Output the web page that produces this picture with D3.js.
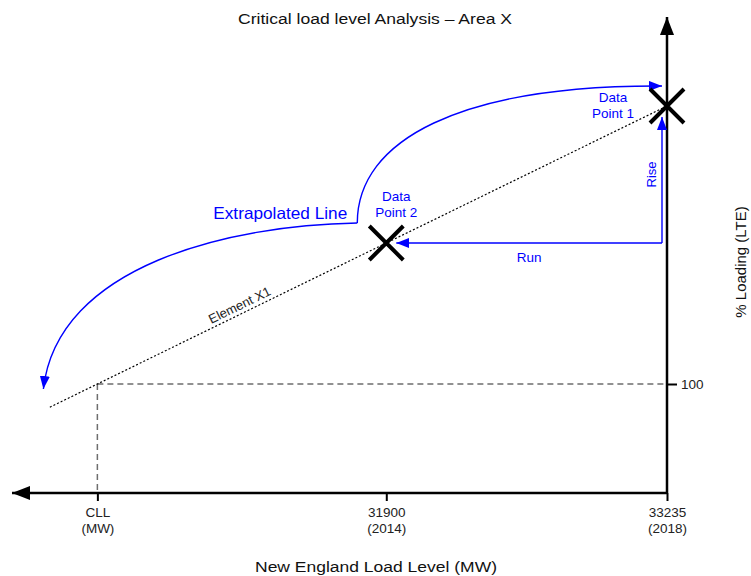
<!DOCTYPE html>
<html>
<head>
<meta charset="utf-8">
<script src="https://cdn.jsdelivr.net/npm/d3@7"></script>
<style>
  body { margin: 0; background: #fff; }
  text { font-family: "Liberation Sans", Arial, sans-serif; }
</style>
</head>
<body>
<div id="chart"></div>
<script>
// values
const pointNames = [["Data", "Point 1"], ["Data", "Point 2"]];
const pointLoads = [33235, 31900];        // MW
const pointLoading = [127.8, 114.1];      // % loading (LTE)
const tickTop = ["CLL", "31900", "33235"];
const tickBottom = ["(MW)", "(2014)", "(2018)"];
const loadingTicks = [100];
const lineStartLoad = 30300;
const axisLoadRange = [30120, 33235];
const axisLoadingRange = [89.1, 136.7];

const width = 751, height = 576;
const blue = "#0000ff";

const svg = d3.select("#chart").append("svg")
    .attr("width", width)
    .attr("height", height);

const x = d3.scaleLinear().domain(axisLoadRange).range([12, 667]);
const y = d3.scaleLinear().domain(axisLoadingRange).range([493, 17]);

// line through the two points, extended back to 100 %
const slope = (pointLoading[0] - pointLoading[1]) / (pointLoads[0] - pointLoads[1]);
const loadingAt = l => pointLoading[1] + slope * (l - pointLoads[1]);
const cll = pointLoads[1] + (100 - pointLoading[1]) / slope;

// arrow heads
const defs = svg.append("defs");
function marker(id, len, half, color) {
    defs.append("marker")
        .attr("id", id)
        .attr("markerUnits", "userSpaceOnUse")
        .attr("markerWidth", len)
        .attr("markerHeight", half * 2)
        .attr("refX", len)
        .attr("refY", half)
        .attr("orient", "auto")
        .append("path")
        .attr("d", `M0,0L${len},${half}L0,${half * 2}Z`)
        .attr("fill", color);
}
marker("axisArrow", 18, 7, "#000");
marker("blueArrow", 13, 5, blue);

// dashed guides at 100 % / CLL
svg.append("line")
    .attr("x1", x(cll)).attr("y1", y(100))
    .attr("x2", x(pointLoads[0])).attr("y2", y(100))
    .attr("stroke", "#6e6e6e").attr("stroke-width", 1.5)
    .attr("stroke-dasharray", "6,4");
svg.append("line")
    .attr("x1", x(cll)).attr("y1", y(100))
    .attr("x2", x(cll)).attr("y2", y(axisLoadingRange[0]))
    .attr("stroke", "#6e6e6e").attr("stroke-width", 1.5)
    .attr("stroke-dasharray", "6,4");

// x axis
const xAxis = svg.append("g")
    .attr("transform", `translate(0,${y(axisLoadingRange[0])})`)
    .call(d3.axisBottom(x).tickValues([cll, pointLoads[1], pointLoads[0]]).tickSize(8).tickFormat(""));
xAxis.select(".domain").remove();
xAxis.selectAll(".tick line").attr("stroke", "#000").attr("stroke-width", 2);
xAxis.selectAll(".tick").append("text")
    .attr("fill", "#222")
    .attr("font-size", 13.5)
    .attr("text-anchor", "middle")
    .each(function (d, i) {
        const t = d3.select(this);
        t.append("tspan").attr("x", 0).attr("y", 24).text(tickTop[i]);
        t.append("tspan").attr("x", 0).attr("y", 40).text(tickBottom[i]);
    });

// y axis
const yAxis = svg.append("g")
    .attr("transform", `translate(${x(axisLoadRange[1])},0)`)
    .call(d3.axisRight(y).tickValues(loadingTicks).tickSize(10).tickPadding(4));
yAxis.select(".domain").remove();
yAxis.selectAll(".tick line").attr("stroke", "#000").attr("stroke-width", 2);
yAxis.selectAll(".tick text")
    .attr("fill", "#222")
    .attr("font-size", 13.5)
    .attr("font-family", "Liberation Sans, Arial, sans-serif");

svg.append("line")
    .attr("x1", x(axisLoadRange[1])).attr("y1", y(axisLoadingRange[0]))
    .attr("x2", x(axisLoadRange[0])).attr("y2", y(axisLoadingRange[0]))
    .attr("stroke", "#000").attr("stroke-width", 2.5)
    .attr("marker-end", "url(#axisArrow)");
svg.append("line")
    .attr("x1", x(axisLoadRange[1])).attr("y1", y(axisLoadingRange[0]))
    .attr("x2", x(axisLoadRange[1])).attr("y2", y(axisLoadingRange[1]))
    .attr("stroke", "#000").attr("stroke-width", 2.5)
    .attr("marker-end", "url(#axisArrow)");

// Element X1 dotted line
const line = d3.line().x(d => x(d)).y(d => y(loadingAt(d)));
svg.append("path")
    .datum([lineStartLoad, pointLoads[0]])
    .attr("d", line)
    .attr("fill", "none")
    .attr("stroke", "#000")
    .attr("stroke-width", 1.2)
    .attr("stroke-dasharray", "2,2");

const angle = Math.atan2(y(loadingAt(pointLoads[0])) - y(loadingAt(lineStartLoad)),
    x(pointLoads[0]) - x(lineStartLoad)) * 180 / Math.PI;
const labelLoad = 31220;
svg.append("text")
    .attr("transform", `translate(${x(labelLoad)},${y(loadingAt(labelLoad))}) rotate(${angle})`)
    .attr("dy", -4)
    .attr("text-anchor", "middle")
    .attr("font-size", 13)
    .attr("fill", "#222")
    .text("Element X1");

// rise / run arrows
const p1 = [x(pointLoads[0]), y(pointLoading[0])];
const p2 = [x(pointLoads[1]), y(pointLoading[1])];
const corner = [p1[0] - 5, p2[1]];
svg.append("line")
    .attr("x1", corner[0]).attr("y1", corner[1])
    .attr("x2", p2[0] + 10).attr("y2", corner[1])
    .attr("stroke", blue).attr("stroke-width", 1.4)
    .attr("marker-end", "url(#blueArrow)");
svg.append("line")
    .attr("x1", corner[0]).attr("y1", corner[1])
    .attr("x2", corner[0]).attr("y2", p1[1] + 11)
    .attr("stroke", blue).attr("stroke-width", 1.4)
    .attr("marker-end", "url(#blueArrow)");
svg.append("text")
    .attr("x", (corner[0] + p2[0]) / 2 + 5).attr("y", corner[1] + 19)
    .attr("text-anchor", "middle").attr("font-size", 13.5).attr("fill", blue)
    .text("Run");
svg.append("text")
    .attr("transform", `translate(${corner[0] - 6},${(corner[1] + p1[1]) / 2}) rotate(-90)`)
    .attr("text-anchor", "middle").attr("font-size", 13).attr("fill", blue)
    .text("Rise");

// extrapolated line curves
const knee = [p2[0] - 29, p2[1] - 20];
const up = d3.path();
up.moveTo(knee[0], knee[1]);
up.bezierCurveTo(knee[0], knee[1] - 83, p1[0] - 207, p1[1] - 21, p1[0] - 5, p1[1] - 20);
svg.append("path")
    .attr("d", up.toString())
    .attr("fill", "none").attr("stroke", blue).attr("stroke-width", 1.4)
    .attr("marker-end", "url(#blueArrow)");

const down = d3.path();
down.moveTo(knee[0], knee[1]);
down.bezierCurveTo(knee[0] - 127, knee[1] + 2, x(cll) - 40, y(100) - 119, x(cll) - 54, y(100) + 5);
svg.append("path")
    .attr("d", down.toString())
    .attr("fill", "none").attr("stroke", blue).attr("stroke-width", 1.4)
    .attr("marker-end", "url(#blueArrow)");

svg.append("text")
    .attr("x", knee[0] - 77).attr("y", knee[1] - 4)
    .attr("text-anchor", "middle").attr("font-size", 16.5).attr("fill", blue)
    .attr("textLength", 134).attr("lengthAdjust", "spacingAndGlyphs")
    .text("Extrapolated Line");

// X marks for the data points
const cross = d3.symbol().type(d3.symbolX).size(756);
svg.selectAll(".pt")
    .data(pointLoads)
    .join("path")
    .attr("class", "pt")
    .attr("transform", (d, i) => `translate(${x(d)},${y(pointLoading[i])})`)
    .attr("d", cross)
    .attr("fill", "none")
    .attr("stroke", "#000")
    .attr("stroke-width", 4);

// point labels
const labelOffsets = [[-54, -4.5], [10, -42.5]];
pointNames.forEach((lines, i) => {
    const t = svg.append("text")
        .attr("text-anchor", "middle").attr("font-size", 13.5).attr("fill", blue);
    lines.forEach((s, j) => {
        t.append("tspan")
            .attr("x", x(pointLoads[i]) + labelOffsets[i][0])
            .attr("y", y(pointLoading[i]) + labelOffsets[i][1] + j * 16)
            .text(s);
    });
});

// titles
svg.append("text")
    .attr("x", 375).attr("y", 24)
    .attr("text-anchor", "middle").attr("font-size", 15.5).attr("fill", "#111")
    .attr("textLength", 274).attr("lengthAdjust", "spacingAndGlyphs")
    .text("Critical load level Analysis \u2013 Area X");
svg.append("text")
    .attr("x", 376).attr("y", 572)
    .attr("text-anchor", "middle").attr("font-size", 15.5).attr("fill", "#111")
    .attr("textLength", 242).attr("lengthAdjust", "spacingAndGlyphs")
    .text("New England Load Level (MW)");
svg.append("text")
    .attr("transform", "translate(746,262) rotate(-90)")
    .attr("text-anchor", "middle").attr("font-size", 15).attr("fill", "#111")
    .text("% Loading (LTE)");
</script>
</body>
</html>
